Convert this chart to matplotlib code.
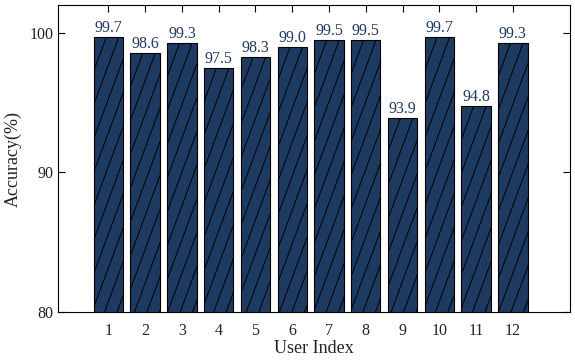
import matplotlib.pyplot as plt
from matplotlib.lines import Line2D
from matplotlib.transforms import IdentityTransform

users = [1, 2, 3, 4, 5, 6, 7, 8, 9, 10, 11, 12]
accuracy = [99.7, 98.6, 99.3, 97.5, 98.3, 99.0, 99.5, 99.5, 93.9, 99.7, 94.8, 99.3]
yticks = [80, 90, 100]

plt.rcParams['font.family'] = ['Liberation Serif', 'DejaVu Serif']

fig = plt.figure(figsize=(5.75, 3.63), dpi=100)
ax = fig.add_axes([0.101, 0.1405, 0.890, 0.8455])

bars = ax.bar(users, accuracy, width=0.8, color='#1d3a60', edgecolor='black',
              linewidth=0.8, zorder=2)

for b, v in zip(bars, accuracy):
    ax.text(b.get_x() + b.get_width() / 2, v + 0.05, f'{v:.1f}',
            ha='center', va='bottom', fontsize=11.5, color='#1f3864')

ax.set_xlim(-0.37, 13.55)
ax.set_ylim(80, 102)
ax.set_xticks(users)
ax.set_yticks(yticks)
ax.tick_params(direction='in', top=True, right=True, labelsize=11.5,
               length=5, width=0.8, colors='black', labelcolor='#222222')
ax.tick_params(axis='x', pad=8)
for s in ax.spines.values():
    s.set_linewidth(0.8)

# steep hatch lines, drawn in pixels and clipped to each bar
step = 12.5
slope = 0.37
for b in bars:
    x0, y0 = ax.transData.transform((b.get_x(), 80))
    x1, y1 = ax.transData.transform((b.get_x() + b.get_width(), b.get_height()))
    h = y1 - y0
    x = x0 - h * slope
    while x < x1:
        ln = Line2D([x, x + h * slope], [y0, y1], color='black', lw=0.7,
                    transform=IdentityTransform(), zorder=3)
        ax.add_artist(ln)
        ln.set_clip_path(b)
        x += step

ax.set_xlabel('User Index', fontsize=13, color='#222222', labelpad=1)
ax.set_ylabel('Accuracy(%)', fontsize=13, color='#222222', labelpad=5)

fig.savefig('out.png', dpi=100)
